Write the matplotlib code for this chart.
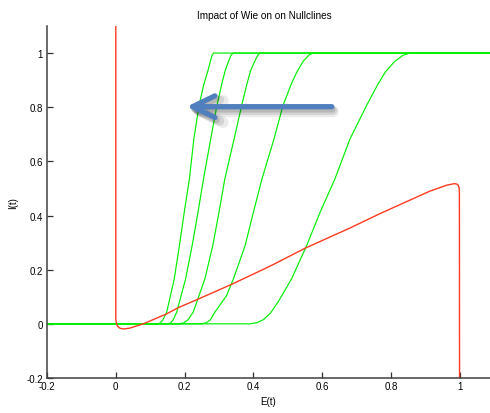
import numpy as np
import matplotlib
matplotlib.use('Agg')
from matplotlib import pyplot as plt

plt.rcParams['font.family'] = ['Liberation Sans', 'DejaVu Sans']

# I-nullclines for increasing Wie
g1_x = [-0.2, 0.123, 0.130, 0.137, 0.148, 0.170, 0.185, 0.199, 0.214, 0.227, 0.242, 0.256, 0.268, 0.275, 0.280, 0.284, 1.1]
g1_y = [0.0, 0.0, 0.004, 0.015, 0.043, 0.166, 0.289, 0.412, 0.535, 0.683, 0.806, 0.885, 0.935, 0.970, 0.992, 1.0, 1.0]
g2_x = [-0.2, 0.152, 0.160, 0.167, 0.177, 0.203, 0.222, 0.239, 0.255, 0.276, 0.294, 0.308, 0.318, 0.328, 0.335, 0.341, 1.1]
g2_y = [0.0, 0.0, 0.004, 0.015, 0.043, 0.166, 0.289, 0.412, 0.535, 0.683, 0.806, 0.885, 0.935, 0.970, 0.992, 1.0, 1.0]
g3_x = [-0.2, 0.187, 0.198, 0.210, 0.225, 0.259, 0.282, 0.300, 0.317, 0.344, 0.366, 0.380, 0.392, 0.404, 0.413, 0.419, 1.1]
g3_y = [0.0, 0.0, 0.004, 0.015, 0.043, 0.166, 0.289, 0.412, 0.535, 0.683, 0.806, 0.880, 0.935, 0.970, 0.992, 1.0, 1.0]
g4_x = [-0.2, 0.250, 0.263, 0.275, 0.288, 0.322, 0.342, 0.376, 0.400, 0.425, 0.460, 0.486, 0.510, 0.526, 0.545, 0.562, 0.573, 1.1]
g4_y = [0.0, 0.0, 0.004, 0.015, 0.043, 0.104, 0.166, 0.289, 0.412, 0.535, 0.683, 0.806, 0.885, 0.929, 0.970, 0.993, 1.0, 1.0]
g5_x = [-0.2, 0.390, 0.410, 0.430, 0.450, 0.472, 0.511, 0.555, 0.594, 0.637, 0.681, 0.729, 0.760, 0.783, 0.810, 0.835, 0.855, 1.1]
g5_y = [0.0, 0.0, 0.004, 0.016, 0.040, 0.081, 0.166, 0.289, 0.412, 0.535, 0.683, 0.806, 0.880, 0.929, 0.968, 0.992, 1.0, 1.0]
greens = [(g1_x, g1_y), (g2_x, g2_y), (g3_x, g3_y), (g4_x, g4_y), (g5_x, g5_y)]

# E-nullcline
red_x = [0.0, 0.0, 0.002, 0.006, 0.012, 0.022, 0.040, 0.080, 0.148, 0.182, 0.237, 0.337, 0.450,
         0.550, 0.681, 0.768, 0.913, 0.962, 0.985, 0.994, 0.998, 0.999, 0.9995]
red_y = [1.15, 0.02, 0.000, -0.010, -0.016, -0.019, -0.016, 0.000, 0.037, 0.060, 0.090, 0.146, 0.214,
         0.279, 0.354, 0.407, 0.490, 0.512, 0.518, 0.515, 0.504, 0.486, -0.25]

x_ticks = [-0.2, 0, 0.2, 0.4, 0.6, 0.8, 1]
y_ticks = [-0.2, 0, 0.2, 0.4, 0.6, 0.8, 1]
x_labels = ['-0.2', '0', '0.2', '0.4', '0.6', '0.8', '1']
y_labels = ['-0.2', '0', '0.2', '0.4', '0.6', '0.8', '1']

arrow_tail = (0.628, 0.802)
arrow_tip = (0.206, 0.802)

fig = plt.figure(figsize=(4.9, 4.14), dpi=100)
ax = fig.add_axes([47/490, 35/414, 443/490, 352/414])

for gx, gy in greens:
    ax.plot(gx, gy, color='#00f000', lw=0.85, solid_joinstyle='round')
ax.plot(red_x, red_y, color='#ff3a20', lw=1.0, solid_joinstyle='round')

# shaded blue arrow
for k, (dx, dy, a) in enumerate([(0.004, -0.018, 0.08), (0.003, -0.014, 0.10), (0.002, -0.010, 0.13)]):
    ax.annotate('', xy=(arrow_tip[0] + dx, arrow_tip[1] + dy),
                xytext=(arrow_tail[0] + dx, arrow_tail[1] + dy),
                arrowprops=dict(arrowstyle='->,head_length=1.6,head_width=0.78',
                                color='black', alpha=a, lw=4.5 + 1.8 * (2 - k),
                                capstyle='round', joinstyle='round', shrinkA=0, shrinkB=0))
ax.annotate('', xy=arrow_tip, xytext=arrow_tail,
            arrowprops=dict(arrowstyle='->,head_length=1.6,head_width=0.78',
                            color='#4f7fbd', lw=3.8, capstyle='round', joinstyle='round',
                            shrinkA=0, shrinkB=0))

ax.set_xlim(-0.2, 1.088)
ax.set_ylim(-0.2, 1.1)
ax.set_xticks(x_ticks)
ax.set_xticklabels(x_labels)
ax.set_yticks(y_ticks)
ax.set_yticklabels(y_labels)
ax.tick_params(direction='in', length=4, width=0.9, color='#303030', labelsize=7, pad=2)
ax.tick_params(axis='y', pad=3)
for s in ['top', 'right']:
    ax.spines[s].set_visible(False)
for s in ['left', 'bottom']:
    ax.spines[s].set_linewidth(1.1)
    ax.spines[s].set_color('#404040')

ax.set_title('Impact of Wie on on Nullclines', fontsize=7.2, x=0.49, pad=6)
ax.set_xlabel('E(t)', fontsize=7, labelpad=4)
ax.set_ylabel('I(t)', fontsize=7, labelpad=6)

fig.savefig('out.png', dpi=100)
